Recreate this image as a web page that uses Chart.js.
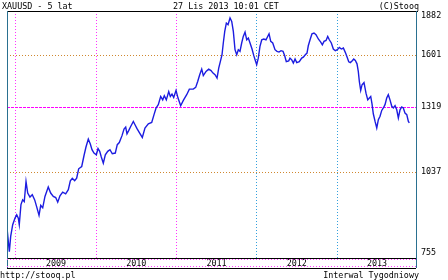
<!DOCTYPE html>
<html>
<head>
<meta charset="utf-8">
<script src="https://cdn.jsdelivr.net/npm/chart.js@4/dist/chart.umd.min.js"></script>
<style>
html, body { margin: 0; padding: 0; background: #fff; }
#wrap { position: relative; width: 448px; height: 280px; overflow: hidden; }
#chart { position: absolute; left: 0; top: 0; }
.lbl { position: absolute; font: 8.4px "DejaVu Sans Mono", monospace; color: #000; white-space: nowrap; line-height: 10px; }
</style>
</head>
<body>
<div id="wrap">
  <canvas id="chart" width="448" height="280"></canvas>
  <div class="lbl" style="left:2px;top:1px">XAUUSD - 5 lat</div>
  <div class="lbl" style="left:173px;top:1px">27 Lis 2013 10:01 CET</div>
  <div class="lbl" style="right:29px;top:1px">(C)Stooq</div>
  <div class="lbl" style="left:0px;top:270px">http://stooq.pl</div>
  <div class="lbl" style="right:29px;top:270px">Interwal Tygodniowy</div>
</div>
<script>
// weekly closes, x as decimal year
const weeks = [
  2008.892, 2008.917, 2008.934, 2008.959, 2008.988, 2009.009, 2009.029, 2009.041, 2009.062, 2009.083,
  2009.103, 2009.125, 2009.146, 2009.174, 2009.203, 2009.233, 2009.258, 2009.287, 2009.308, 2009.333,
  2009.361, 2009.402, 2009.432, 2009.465, 2009.495, 2009.520, 2009.548, 2009.582, 2009.619, 2009.652,
  2009.677, 2009.702, 2009.731, 2009.756, 2009.781, 2009.819, 2009.847, 2009.872, 2009.901, 2009.926,
  2009.947, 2009.972, 2010.001, 2010.022, 2010.043, 2010.063, 2010.088, 2010.113, 2010.143, 2010.171,
  2010.200, 2010.237, 2010.262, 2010.287, 2010.321, 2010.346, 2010.367, 2010.383, 2010.404, 2010.429,
  2010.462, 2010.483, 2010.508, 2010.541, 2010.574, 2010.607, 2010.649, 2010.691, 2010.720, 2010.745,
  2010.773, 2010.803, 2010.828, 2010.848, 2010.873, 2010.903, 2010.923, 2010.944, 2010.965, 2010.994,
  2011.019, 2011.052, 2011.085, 2011.127, 2011.160, 2011.209, 2011.239, 2011.264, 2011.289, 2011.314,
  2011.334, 2011.368, 2011.401, 2011.430, 2011.455, 2011.480, 2011.505, 2011.526, 2011.546, 2011.567,
  2011.583, 2011.601, 2011.621, 2011.642, 2011.667, 2011.688, 2011.708, 2011.729, 2011.750, 2011.770,
  2011.791, 2011.812, 2011.832, 2011.854, 2011.875, 2011.895, 2011.916, 2011.941, 2011.962, 2011.982,
  2011.999, 2012.019, 2012.040, 2012.062, 2012.087, 2012.115, 2012.136, 2012.153, 2012.174, 2012.199,
  2012.227, 2012.252, 2012.277, 2012.302, 2012.327, 2012.348, 2012.368, 2012.398, 2012.414, 2012.436,
  2012.456, 2012.477, 2012.498, 2012.530, 2012.560, 2012.580, 2012.605, 2012.626, 2012.642, 2012.664,
  2012.688, 2012.713, 2012.738, 2012.767, 2012.797, 2012.817, 2012.838, 2012.863, 2012.884, 2012.904,
  2012.929, 2012.954, 2012.979, 2013.004, 2013.029, 2013.054, 2013.079, 2013.103, 2013.125, 2013.146,
  2013.166, 2013.187, 2013.208, 2013.228, 2013.249, 2013.265, 2013.278, 2013.295, 2013.312, 2013.336,
  2013.361, 2013.383, 2013.403, 2013.420, 2013.436, 2013.452, 2013.474, 2013.495, 2013.515, 2013.536,
  2013.557, 2013.577, 2013.598, 2013.619, 2013.639, 2013.660, 2013.682, 2013.702, 2013.723, 2013.744,
  2013.764, 2013.785, 2013.806, 2013.826, 2013.847, 2013.869, 2013.889, 2013.901
];
const close = [
  833, 773, 818, 854, 875, 886, 875, 854, 920, 936,
  930, 1002, 960, 946, 954, 936, 912, 884, 917, 909,
  948, 982, 960, 948, 944, 928, 950, 963, 957, 972,
  1004, 1014, 1005, 1014, 1050, 1059, 1102, 1138, 1172, 1151,
  1127, 1113, 1106, 1132, 1120, 1097, 1072, 1106, 1120, 1127,
  1110, 1113, 1148, 1157, 1187, 1216, 1225, 1195, 1209, 1228,
  1251, 1236, 1218, 1198, 1179, 1221, 1240, 1246, 1283, 1315,
  1331, 1372, 1355, 1376, 1355, 1397, 1372, 1384, 1367, 1403,
  1364, 1326, 1352, 1381, 1410, 1410, 1419, 1450, 1487, 1518,
  1482, 1505, 1518, 1510, 1496, 1487, 1469, 1524, 1561, 1601,
  1672, 1745, 1800, 1789, 1834, 1811, 1745, 1631, 1601, 1631,
  1621, 1672, 1713, 1741, 1692, 1703, 1672, 1635, 1597, 1567,
  1543, 1581, 1651, 1692, 1697, 1692, 1713, 1730, 1682, 1672,
  1631, 1621, 1617, 1625, 1621, 1595, 1561, 1565, 1581, 1571,
  1552, 1576, 1555, 1560, 1581, 1587, 1601, 1611, 1655, 1692,
  1730, 1735, 1724, 1697, 1678, 1661, 1682, 1688, 1713, 1692,
  1672, 1635, 1625, 1631, 1645, 1635, 1641, 1615, 1587, 1560,
  1555, 1564, 1576, 1567, 1548, 1505, 1450, 1403, 1433, 1445,
  1389, 1355, 1364, 1372, 1335, 1287, 1251, 1221, 1259, 1275,
  1303, 1315, 1331, 1364, 1381, 1355, 1323, 1315, 1326, 1306,
  1267, 1306, 1320, 1315, 1290, 1283, 1251, 1244
];
const yearTicks = [2009, 2010, 2011, 2012, 2013];
const priceTicks = [755, 1037, 1319, 1601, 1882];
const lastClose = 1319;   // magenta guide
const xMin = 2008.888, xMax = 2013.984;

const points = [];
for (let i = 0; i < Math.min(weeks.length, close.length); i++) {
    points.push({ x: weeks[i], y: close[i] });
}

const tickFont = { family: 'DejaVu Sans Mono', size: 8.4 };

// horizontal guides, drawn under the line
const guidePlugin = {
    id: 'guides',
    beforeDatasetsDraw(chart) {
        const c = chart.ctx, a = chart.chartArea, ys = chart.scales.y;
        c.save();
        c.lineWidth = 1;
        priceTicks.forEach(v => {
            if (v === priceTicks[0] || v === priceTicks[priceTicks.length - 1]) return;
            const py = Math.round(ys.getPixelForValue(v)) + 0.5;
            if (v === lastClose) {
                c.strokeStyle = '#ff00ff';
                c.setLineDash([3, 1]);
            } else {
                c.strokeStyle = '#d08830';
                c.setLineDash([1, 2]);
            }
            c.beginPath();
            c.moveTo(a.left, py);
            c.lineTo(a.right, py);
            c.stroke();
        });
        c.restore();
    }
};

// frame + label strip under the plot
const framePlugin = {
    id: 'frame',
    afterDraw(chart) {
        const c = chart.ctx, a = chart.chartArea;
        c.save();
        c.lineWidth = 1;
        c.strokeStyle = '#000';
        c.beginPath();
        c.moveTo(a.left, Math.round(a.top) + 0.5);
        c.lineTo(a.right + 2, Math.round(a.top) + 0.5);
        c.moveTo(a.left, Math.round(a.bottom) + 10.5);
        c.lineTo(a.right, Math.round(a.bottom) + 10.5);
        c.stroke();

        c.strokeStyle = '#2a7090';
        c.beginPath();
        c.moveTo(Math.round(a.left) + 0.5, a.top);
        c.lineTo(Math.round(a.left) + 0.5, a.bottom + 10);
        c.moveTo(Math.round(a.right) + 0.5, a.top);
        c.lineTo(Math.round(a.right) + 0.5, a.bottom + 10);
        c.stroke();

        c.setLineDash([1, 2]);
        c.strokeStyle = '#ff40ff';
        c.beginPath();
        c.moveTo(a.left, Math.round(a.bottom) + 1.5);
        c.lineTo(a.right, Math.round(a.bottom) + 1.5);
        c.moveTo(a.left, Math.round(a.bottom) + 8.5);
        c.lineTo(a.right, Math.round(a.bottom) + 8.5);
        c.stroke();
        c.restore();
    }
};

new Chart(document.getElementById('chart'), {
    type: 'line',
    data: {
        datasets: [{
            data: points,
            borderColor: '#1c1ce0',
            borderWidth: 1.4,
            pointRadius: 0,
            tension: 0
        }]
    },
    options: {
        responsive: false,
        animation: false,
        layout: { padding: { top: 11, left: 7, right: 0, bottom: 0 } },
        plugins: { legend: { display: false }, tooltip: { enabled: false } },
        scales: {
            x: {
                type: 'linear',
                min: xMin,
                max: xMax,
                afterBuildTicks: s => { s.ticks = yearTicks.map(v => ({ value: v })); },
                afterFit: s => { s.height = 22; s.paddingLeft = 0; s.paddingRight = 0; },
                grid: {
                    color: c => (c.tick && c.tick.value >= 2012) ? '#33a0dd' : '#ff33ff',
                    drawTicks: false
                },
                border: { display: true, color: '#000', dash: [1, 2] },
                ticks: {
                    callback: v => String(v),
                    labelOffset: 40,
                    padding: 1,
                    maxRotation: 0,
                    autoSkip: false,
                    color: '#000',
                    font: tickFont
                }
            },
            y: {
                type: 'logarithmic',
                position: 'right',
                min: 755,
                max: 1882,
                afterBuildTicks: s => { s.ticks = priceTicks.map(v => ({ value: v })); },
                afterFit: s => { s.width = 32; s.paddingTop = 0; s.paddingBottom = 0; },
                grid: { display: false, drawTicks: false },
                border: { display: true, color: '#2a88c0' },
                ticks: {
                    // edge labels sit inside the plot band
                    callback: (v, i, t) => {
                        const s = String(v);
                        if (i === 0) return [s, ''];
                        if (i === t.length - 1) return ['', s];
                        return s;
                    },
                    padding: 5,
                    color: '#000',
                    font: tickFont
                }
            }
        }
    },
    plugins: [guidePlugin, framePlugin]
});
</script>
</body>
</html>
